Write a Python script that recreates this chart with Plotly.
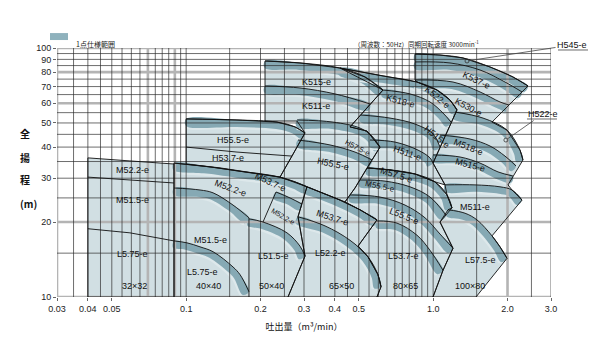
import numpy as np
import plotly.graph_objects as go

# ---------------- axis ticks ----------------
X_TICKS = [0.03, 0.04, 0.05, 0.1, 0.2, 0.3, 0.4, 0.5, 1.0, 2.0, 3.0]
X_TICK_TEXT = ["0.03", "0.04", "0.05", "0.1", "0.2", "0.3", "0.4", "0.5", "1.0", "2.0", "3.0"]
Y_TICKS = [10, 20, 30, 40, 50, 60, 70, 80, 90, 100]

GRID_Q_THIN = [0.035, 0.04, 0.045, 0.05, 0.055, 0.06, 0.065, 0.075, 0.08, 0.085, 0.095,
               0.1, 0.15, 0.2, 0.25, 0.3, 0.35, 0.4, 0.45, 0.5, 0.55, 0.6, 0.65, 0.7,
               0.75, 0.8, 0.85, 0.9, 0.95, 1.0, 1.5, 2.5, 3.0]
GRID_Q_THICK = [0.03, 0.07, 0.09, 2.0]
GRID_H_THIN = [15, 25, 30, 35, 40, 45, 50, 55, 65, 70, 75, 85, 90, 95]
GRID_H_THICK = [10, 20, 60, 80, 100]

# ---------------- pump size outlines (q: m3/min, h: m) ----------------
S32_Q = [0.040, 0.040, 0.0592, 0.0893, 0.0893]
S32_H = [10, 36.2, 35.2, 34.2, 10]

S40_50_Q = [0.0893, 0.0893, 0.1249, 0.1731, 0.2028, 0.2398, 0.2759, 0.3084, 0.2837, 0.3028, 0.2584]
S40_50_H = [10, 34.5, 33.3, 31.8, 31.2, 30.3, 29.0, 27.7, 21.0, 14.6, 10]

S65H_Q = [0.1, 0.1, 0.1606, 0.2332, 0.2759, 0.3028, 0.2682, 0.2398, 0.1865, 0.1371]
S65H_H = [34.2, 51.9, 51.4, 50.4, 48.2, 45.6, 36.8, 30.3, 31.5, 33.0]

S65L_Q = [0.2584, 0.3028, 0.2837, 0.3084, 0.3483, 0.4195, 0.5056, 0.5924, 0.4963, 0.5448, 0.5978, 0.6150, 0.5924]
S65L_H = [10, 14.6, 21.0, 27.7, 26.4, 24.5, 22.4, 20.4, 16.0, 14.5, 12.3, 11.0, 10]

SKH1_Q = [0.2086, 0.2086, 0.2890, 0.4195, 0.5298, 0.6265, 0.4606, 0.5398, 0.6093, 0.4826,
          0.4397, 0.3084, 0.2398, 0.2682, 0.3028, 0.2811]
SKH1_H = [50.9, 88.7, 87.1, 83.1, 76.5, 67.8, 48.2, 46.4, 40.0, 27.4, 24.1, 27.7, 30.3, 36.8, 45.6, 50.9]

SKH2_Q = [0.4195, 0.6265, 0.8603, 1.0365, 1.170, 1.249, 0.9986, 1.1168, 1.0174, 0.8443,
          0.6688, 0.5398, 0.6093, 0.5398, 0.4606, 0.6265]
SKH2_H = [83.1, 77.2, 73.0, 67.8, 61.8, 56.4, 34.5, 28.2, 29.0, 31.2, 32.4, 33.0, 40.0, 46.4, 48.2, 67.8]

S80_Q = [0.5924, 0.6150, 0.5978, 0.5448, 0.4963, 0.5924, 0.5056, 0.4397, 0.4826, 0.5398, 0.6688,
         0.8443, 1.0174, 1.138, 1.192, 1.0659, 1.203, 1.0962, 0.9986]
S80_H = [10, 11.0, 12.3, 14.5, 16.0, 20.4, 22.4, 24.1, 27.4, 33.0, 32.4, 31.2, 29.0, 25.7, 22.8,
         20.0, 15.7, 12.8, 10]

S100_Q = [0.9986, 1.0962, 1.203, 1.0659, 1.1485, 1.192, 1.138, 1.1168, 0.9986, 1.249, 1.170, 1.0365,
          0.8603, 0.8443, 0.8443, 1.0659, 1.321, 1.699, 2.105, 2.421, 1.731, 1.991, 2.247, 2.310,
          2.010, 2.086, 2.289, 1.731, 1.865, 1.991, 1.491]
S100_H = [10, 12.8, 15.7, 20.0, 22.4, 22.8, 25.7, 28.2, 34.5, 56.4, 61.8, 67.8, 73.0, 74.4, 94.6,
          93.7, 91.2, 83.9, 76.5, 70.4, 50.4, 46.8, 38.9, 35.5, 28.2, 26.9, 24.5, 17.6, 15.9, 14.3, 10]

# ---------------- maximum-impeller head curves (with 1-point band) ----------------
C_40_TOP_Q = [0.0893, 0.1249, 0.1731, 0.2028, 0.2398, 0.2759, 0.3084]
C_40_TOP_H = [34.5, 33.3, 31.8, 31.2, 30.3, 29.0, 27.7]
C_M515_40_Q = [0.0893, 0.1138, 0.1285, 0.1548, 0.1796]
C_M515_40_H = [27.4, 26.9, 26.2, 23.4, 20.8]
C_L575_40_Q = [0.0893, 0.1008, 0.1138, 0.1285, 0.1548, 0.1652, 0.1796]
C_L575_40_H = [16.8, 16.5, 15.9, 15.2, 13.2, 12.3, 10.5]
C_M522_50_Q = [0.2311, 0.2633, 0.2945]
C_M522_50_H = [26.4, 25.0, 23.6]
C_L515_50_Q = [0.1796, 0.2047, 0.2560, 0.2890, 0.3028]
C_L515_50_H = [20.6, 20.0, 18.1, 16.0, 14.6]
C_H555_65_Q = [0.1, 0.1606, 0.2332, 0.2759, 0.3028]
C_H555_65_H = [51.9, 51.4, 50.4, 48.2, 45.6]
C_M537_65_Q = [0.3084, 0.3483, 0.4195, 0.5056, 0.5924]
C_M537_65_H = [27.7, 26.4, 24.5, 22.4, 20.4]
C_L522_65_Q = [0.2837, 0.3649, 0.4606, 0.5448, 0.5978, 0.6150]
C_L522_65_H = [21.0, 19.3, 16.9, 14.5, 12.3, 11.0]
C_K515_Q = [0.2086, 0.2890, 0.4195, 0.5298, 0.6265]
C_K515_H = [88.7, 87.1, 83.1, 76.5, 67.8]
C_K511_Q = [0.2086, 0.2890, 0.4005, 0.5551]
C_K511_H = [70.4, 69.1, 65.4, 59.6]
C_H575_Q = [0.2811, 0.3931, 0.5056, 0.5655, 0.6093]
C_H575_H = [51.4, 50.4, 47.7, 44.3, 40.0]
C_H555_80_Q = [0.2837, 0.3823, 0.4826, 0.5655]
C_H555_80_H = [42.7, 40.8, 38.2, 35.5]
C_K522_Q = [0.4195, 0.6265, 0.8603, 1.0365, 1.170, 1.249]
C_K522_H = [83.1, 77.2, 73.0, 67.8, 61.8, 56.4]
C_K518_Q = [0.6265, 0.8058, 0.971, 1.0962, 1.181]
C_K518_H = [67.8, 65.4, 60.7, 54.8, 50.4]
C_H515_Q = [0.5104, 0.6688, 0.8443, 0.9986, 1.0659]
C_H515_H = [53.8, 52.3, 49.5, 45.2, 40.0]
C_H511_Q = [0.5551, 0.7007, 0.8683, 0.971, 0.9986]
C_H511_H = [42.7, 41.9, 38.9, 36.2, 34.5]
C_M575_Q = [0.5398, 0.6688, 0.8443, 1.0174, 1.138, 1.192]
C_M575_H = [33.0, 32.4, 31.2, 29.0, 25.7, 22.8]
C_M555_Q = [0.5056, 0.6383, 0.8058, 0.971, 1.127]
C_M555_H = [29.5, 29.2, 27.7, 25.2, 21.3]
C_L555_Q = [0.4606, 0.6093, 0.7692, 0.9269, 1.0659, 1.203]
C_L555_H = [25.7, 25.2, 23.4, 20.8, 17.9, 15.7]
C_L537_Q = [0.5924, 0.714, 0.8603, 0.971, 1.0962]
C_L537_H = [20.2, 19.8, 17.7, 15.4, 12.8]
C_H545_Q = [0.8443, 1.0659, 1.321, 1.699, 2.105, 2.421]
C_H545_H = [94.6, 93.7, 91.2, 83.9, 76.5, 70.4]
C_K537_Q = [0.8443, 1.170, 1.548, 1.954, 2.289]
C_K537_H = [87.9, 87.1, 81.6, 73.0, 66.6]
C_K530_Q = [0.8443, 1.203, 1.548, 1.865, 2.028]
C_K530_H = [74.4, 73.0, 66.6, 60.7, 59.0]
C_H522_Q = [1.226, 1.592, 1.991, 2.247, 2.310]
C_H522_H = [55.3, 52.3, 46.8, 38.9, 35.5]
C_M518_Q = [1.0659, 1.410, 1.699, 1.954, 2.165]
C_M518_H = [44.7, 43.1, 40.4, 36.8, 33.6]
C_M515_Q = [0.9986, 1.284, 1.548, 1.830, 2.105]
C_M515_H = [37.2, 36.5, 34.5, 31.8, 30.6]
C_M511_Q = [1.1168, 1.477, 1.865, 2.086, 2.289]
C_M511_H = [28.2, 28.2, 27.7, 26.9, 24.5]
C_L575_Q = [1.1485, 1.346, 1.505, 1.731, 1.865, 1.991]
C_L575_H = [22.4, 21.7, 20.4, 17.6, 15.9, 14.3]

# curves drawn without a band
P_M515_32_Q = [0.040, 0.0592, 0.0893]
P_M515_32_H = [30.3, 29.5, 28.7]
P_L575_32_Q = [0.040, 0.0592, 0.0893]
P_L575_32_H = [18.8, 18.1, 16.8]
P_H537_65_Q = [0.1, 0.1606, 0.2682]
P_H537_65_H = [40.0, 38.2, 36.8]

# model boundaries
E_40_50_Q = [0.1796, 0.1796]
E_40_50_H = [20.8, 10]
E_M522_Q = [0.2311, 0.2047]
E_M522_H = [26.4, 20.0]

# ---------------- labels ----------------
LABEL_TEXT = ["M52.2-e", "M51.5-e", "L5.75-e", "32×32",
              "M52.2-e", "M51.5-e", "L5.75-e", "40×40",
              "M53.7-e", "M52.2-e", "L51.5-e", "50×40",
              "H55.5-e", "H53.7-e", "M53.7-e", "L52.2-e", "65×50",
              "L53.7-e", "L55.5-e", "M55.5-e", "M57.5-e", "80×65",
              "H55.5-e", "H57.5-e", "H511-e", "H515-e",
              "K515-e", "K511-e", "K518-e", "K522-e", "K530-e", "K537-e",
              "M518-e", "M515-e", "M511-e", "L57.5-e", "100×80"]
LABEL_Q = [0.0609, 0.0609, 0.0609, 0.0615,
           0.1505, 0.1249, 0.117, 0.1226,
           0.2185, 0.2467, 0.2247, 0.2226,
           0.1548, 0.1477, 0.3931, 0.3823, 0.4274,
           0.7551, 0.7621, 0.6093, 0.7073, 0.7692,
           0.3931, 0.4917, 0.7837, 1.0365,
           0.3355, 0.3355, 0.7342, 1.0365, 1.384, 1.491,
           1.384, 1.410, 1.477, 1.548, 1.410]
LABEL_H = [32.4, 24.5, 14.9, 11.1,
           27.4, 16.9, 12.6, 11.1,
           29.0, 21.0, 14.6, 11.1,
           42.7, 36.2, 20.8, 15.0, 11.1,
           14.6, 21.2, 27.7, 30.9, 11.1,
           34.2, 39.7, 37.9, 43.9,
           73.0, 58.5, 61.3, 63.6, 58.0, 74.4,
           40.0, 33.9, 23.0, 14.1, 11.1]
LABEL_ANGLE = [0, 0, 0, 0,
               20, 0, 0, 0,
               25, 30, 0, 0,
               0, 0, 18, 0, 0,
               0, 22, 12, 18, 0,
               12, 28, 20, 40,
               0, 0, 15, 40, 28, 25,
               22, 15, 0, 0, 0]
LABEL_SIZE = [9, 9, 9, 9,
              9, 9, 9, 9,
              9, 7, 9, 9,
              9, 9, 9, 9, 9,
              9, 9, 8, 9, 9,
              9, 7.5, 9, 9,
              9, 9, 9, 9, 9, 9,
              9, 9, 9, 9, 9]

# leader-line callouts
CALLOUT_TEXT = ["H545-e", "H522-e"]
CALLOUT_Q = [1.371, 1.97]
CALLOUT_H = [88.7, 42.7]

# ---------------- styling ----------------
FILL_LIGHT = "#d1dfe3"
BAND_DARK = "#86a9b4"
BAND_PALE = "#dde8eb"
INK = "#111111"
BAND_W = 0.028     # band width in decades
PALE_W = 0.010

SIZES = [(S32_Q, S32_H), (S40_50_Q, S40_50_H), (S65H_Q, S65H_H), (S65L_Q, S65L_H),
         (SKH1_Q, SKH1_H), (SKH2_Q, SKH2_H), (S80_Q, S80_H), (S100_Q, S100_H)]
BANDED = [(C_40_TOP_Q, C_40_TOP_H), (C_M515_40_Q, C_M515_40_H), (C_L575_40_Q, C_L575_40_H),
          (C_M522_50_Q, C_M522_50_H), (C_L515_50_Q, C_L515_50_H), (C_H555_65_Q, C_H555_65_H),
          (C_M537_65_Q, C_M537_65_H), (C_L522_65_Q, C_L522_65_H), (C_K515_Q, C_K515_H),
          (C_K511_Q, C_K511_H), (C_H575_Q, C_H575_H), (C_H555_80_Q, C_H555_80_H),
          (C_K522_Q, C_K522_H), (C_K518_Q, C_K518_H), (C_H515_Q, C_H515_H), (C_H511_Q, C_H511_H),
          (C_M575_Q, C_M575_H), (C_M555_Q, C_M555_H), (C_L555_Q, C_L555_H), (C_L537_Q, C_L537_H),
          (C_H545_Q, C_H545_H), (C_K537_Q, C_K537_H), (C_K530_Q, C_K530_H), (C_H522_Q, C_H522_H),
          (C_M518_Q, C_M518_H), (C_M515_Q, C_M515_H), (C_M511_Q, C_M511_H), (C_L575_Q, C_L575_H)]
PLAIN = [(P_M515_32_Q, P_M515_32_H), (P_L575_32_Q, P_L575_32_H), (P_H537_65_Q, P_H537_65_H),
         (E_40_50_Q, E_40_50_H), (E_M522_Q, E_M522_H)]


def offset_curve(q, h, d):
    """Shift a curve by d decades along its downward normal (log-log space)."""
    u, v = np.log10(q), np.log10(h)
    n = len(u)
    nu, nv = np.zeros(n), np.zeros(n)
    for i in range(n):
        a, b = max(i - 1, 0), min(i + 1, n - 1)
        du, dv = u[b] - u[a], v[b] - v[a]
        ln = np.hypot(du, dv)
        nu[i], nv[i] = dv / ln, -du / ln
    return list(10 ** (u + d * nu)), list(10 ** (v + d * nv))


fig = go.Figure()

# pump size areas
for q, h in SIZES:
    fig.add_trace(go.Scatter(x=q + [q[0]], y=h + [h[0]], mode="lines", fill="toself",
                             fillcolor=FILL_LIGHT, line=dict(width=0), hoverinfo="skip"))

# single-point specification bands under each head curve
for q, h in BANDED:
    q1, h1 = offset_curve(q, h, BAND_W)
    q2, h2 = offset_curve(q, h, BAND_W + PALE_W)
    fig.add_trace(go.Scatter(x=q1 + q2[::-1] + [q1[0]], y=h1 + h2[::-1] + [h1[0]], mode="lines",
                             fill="toself", fillcolor=BAND_PALE, line=dict(width=0, shape="spline"),
                             hoverinfo="skip"))
    fig.add_trace(go.Scatter(x=list(q) + q1[::-1] + [q[0]], y=list(h) + h1[::-1] + [h[0]],
                             mode="lines", fill="toself", fillcolor=BAND_DARK,
                             line=dict(width=0, shape="spline"), hoverinfo="skip"))


# grid on top of the areas
def grid_xy(qs, hs):
    xs, ys = [], []
    for v in qs:
        xs += [v, v, None]
        ys += [10, 100, None]
    for v in hs:
        xs += [0.03, 3.0, None]
        ys += [v, v, None]
    return xs, ys


gx, gy = grid_xy(GRID_Q_THICK, GRID_H_THICK)
fig.add_trace(go.Scatter(x=gx, y=gy, mode="lines", line=dict(color="#b4b4b4", width=2.6),
                         hoverinfo="skip"))
gx, gy = grid_xy(GRID_Q_THIN, GRID_H_THIN)
fig.add_trace(go.Scatter(x=gx, y=gy, mode="lines", line=dict(color="rgba(40,40,40,0.85)", width=0.8),
                         hoverinfo="skip"))

# outlines and curves
for q, h in SIZES:
    fig.add_trace(go.Scatter(x=q + [q[0]], y=h + [h[0]], mode="lines",
                             line=dict(color=INK, width=0.9), hoverinfo="skip"))
for q, h in BANDED:
    fig.add_trace(go.Scatter(x=q, y=h, mode="lines", line=dict(color=INK, width=0.9, shape="spline"),
                             hoverinfo="skip"))
for q, h in PLAIN:
    fig.add_trace(go.Scatter(x=q, y=h, mode="lines", line=dict(color=INK, width=0.9),
                             hoverinfo="skip"))

# callout points
fig.add_trace(go.Scatter(x=CALLOUT_Q, y=CALLOUT_H, mode="markers",
                         marker=dict(symbol="circle-open", size=4, color="#333", line=dict(width=0.8)),
                         hoverinfo="skip"))

ann = []
for t, q, h, a, s in zip(LABEL_TEXT, LABEL_Q, LABEL_H, LABEL_ANGLE, LABEL_SIZE):
    ann.append(dict(x=np.log10(q), y=np.log10(h), xref="x", yref="y", text=t, showarrow=False,
                    textangle=a, font=dict(size=s, color=INK, family="Arial, Liberation Sans")))

callout_offsets = [(105, -16), (37, -26)]
for t, q, h, (ax, ay) in zip(CALLOUT_TEXT, CALLOUT_Q, CALLOUT_H, callout_offsets):
    ann.append(dict(x=np.log10(q), y=np.log10(h), xref="x", yref="y", text=t, showarrow=True,
                    arrowhead=0, arrowwidth=0.8, arrowcolor="#444", ax=ax, ay=ay, standoff=2,
                    font=dict(size=9, color=INK, family="Arial, Liberation Sans")))

cjk = "Noto Sans CJK JP"
ann += [
    dict(x=0.0344, y=1.046, xref="paper", yref="paper", text="1点仕様範囲", showarrow=False,
         xanchor="left", font=dict(size=7, color="#222", family=cjk)),
    dict(x=0.858, y=1.045, xref="paper", yref="paper",
         text="（周波数：50Hz）同期回転速度 3000min<sup>-1</sup>", showarrow=False,
         xanchor="right", font=dict(size=6.5, color="#222", family=cjk)),
]
for ch, yy in zip(["全", "揚", "程", "(m)"], [0.6586, 0.5622, 0.4699, 0.3735]):
    ann.append(dict(x=-0.078, y=yy, xref="paper", yref="paper", text="<b>%s</b>" % ch,
                    showarrow=False, font=dict(size=10, color="#111", family=cjk)))

shapes = [
    dict(type="rect", xref="paper", yref="paper", x0=-0.0142, x1=0.0223, y0=1.032, y1=1.060,
         fillcolor="#8fb2bd", line=dict(width=0)),
    dict(type="line", xref="paper", yref="paper", x0=1.0142, x1=1.0749, y0=0.992, y1=0.992,
         line=dict(color="#444", width=0.8)),
    dict(type="line", xref="paper", yref="paper", x0=0.9514, x1=1.0121, y0=0.7149, y1=0.7149,
         line=dict(color="#444", width=0.8)),
]

axis_font = dict(size=9, color="#222", family="Arial, Liberation Sans")
fig.update_layout(
    width=600, height=350, margin=dict(l=57, r=49, t=48, b=53),
    paper_bgcolor="white", plot_bgcolor="white", showlegend=False,
    annotations=ann, shapes=shapes,
    xaxis=dict(type="log", range=[np.log10(0.03), np.log10(3.0)], showgrid=False, zeroline=False,
               showline=False, ticks="outside", ticklen=3, tickcolor="#666", tickvals=X_TICKS,
               ticktext=X_TICK_TEXT, tickfont=axis_font,
               title=dict(text="吐出量（m³/min）", standoff=10,
                          font=dict(size=9, color="#111", family=cjk))),
    yaxis=dict(type="log", range=[1, 2], showgrid=False, zeroline=False, showline=False,
               ticks="outside", ticklen=3, tickcolor="#666", tickvals=Y_TICKS,
               ticktext=[str(v) for v in Y_TICKS], tickfont=axis_font),
)

fig.write_html("out.html")
